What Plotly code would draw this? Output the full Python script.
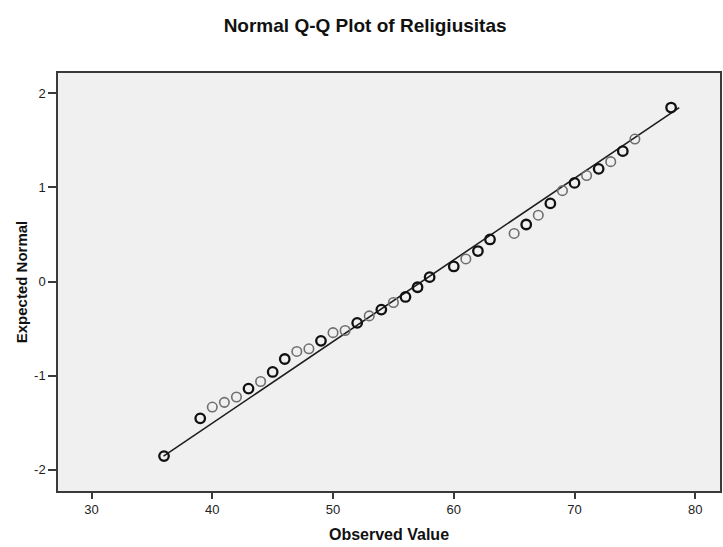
import plotly.graph_objects as go

observed = [36, 39, 40, 41, 42, 43, 44, 45, 46, 47, 48, 49, 50, 51, 52, 53, 54, 55,
            56, 57, 58, 60, 61, 62, 63, 65, 66, 67, 68, 69, 70, 71, 72, 73, 74, 75, 78]
expected = [-1.855, -1.454, -1.334, -1.284, -1.227, -1.138, -1.062, -0.961, -0.823,
            -0.743, -0.715, -0.630, -0.543, -0.520, -0.440, -0.365, -0.298, -0.223,
            -0.164, -0.061, 0.046, 0.160, 0.240, 0.324, 0.447, 0.511, 0.606, 0.705,
            0.830, 0.966, 1.048, 1.126, 1.198, 1.274, 1.385, 1.514, 1.849]
# darker markers = overlapping (repeated) cases
dark = [1, 1, 0, 0, 0, 1, 0, 1, 1, 0, 0, 1, 0, 0, 1, 0, 1, 0,
        1, 1, 1, 1, 0, 1, 1, 0, 1, 0, 1, 0, 1, 0, 1, 0, 1, 0, 1]

# Reference normal line parameters
line_mean = 57.35
line_sd = 11.53

x_ticks = [30, 40, 50, 60, 70, 80]
x_tick_labels = ["30", "40", "50", "60", "70", "80"]
y_ticks = [-2, -1, 0, 1, 2]
y_tick_labels = ["-2", "-1", "0", "1", "2"]

FONT = "Liberation Sans, Arial, sans-serif"

qmin, qmax = min(expected), max(expected)
line_x = [line_mean + qmin * line_sd, line_mean + qmax * line_sd]
line_y = [(v - line_mean) / line_sd for v in line_x]

dx = [v for v, d in zip(observed, dark) if d]
dy = [q for q, d in zip(expected, dark) if d]
gx = [v for v, d in zip(observed, dark) if not d]
gy = [q for q, d in zip(expected, dark) if not d]

fig = go.Figure()
fig.add_trace(go.Scatter(x=line_x, y=line_y, mode="lines",
                         line=dict(color="#1e1e1e", width=1.6), hoverinfo="skip",
                         showlegend=False))
fig.add_trace(go.Scatter(x=gx, y=gy, mode="markers",
                         marker=dict(symbol="circle-open", size=9.5, color="#6e6e6e",
                                     line=dict(width=1.6)),
                         showlegend=False))
fig.add_trace(go.Scatter(x=dx, y=dy, mode="markers",
                         marker=dict(symbol="circle-open", size=9.5, color="#111111",
                                     line=dict(width=2.3)),
                         showlegend=False))

axis_common = dict(showline=True, linecolor="#3a3a3a", linewidth=1.5, mirror=True,
                   showgrid=False, zeroline=False, ticks="outside",
                   tickcolor="#3a3a3a", tickwidth=1.5,
                   tickfont=dict(family=FONT, size=13, color="#222222"))

fig.update_layout(
    width=723, height=547,
    paper_bgcolor="white", plot_bgcolor="#f0f0f0",
    margin=dict(l=58, r=1, t=73, b=56),
    title=dict(text="<b>Normal Q-Q Plot of Religiusitas</b>", x=0.505, xanchor="center",
               y=1 - 25 / 547, yanchor="middle",
               font=dict(family=FONT, size=19, color="#111111")),
    xaxis=dict(axis_common, range=[27.22, 82.05], tickvals=x_ticks,
               ticktext=x_tick_labels, ticklen=6,
               title=dict(text="<b>Observed Value</b>", standoff=12,
                          font=dict(family=FONT, size=16, color="#111111"))),
    yaxis=dict(axis_common, range=[-2.226, 2.216], tickvals=y_ticks,
               ticktext=y_tick_labels, ticklen=8,
               title=dict(text="<b>Expected Normal</b>", standoff=3,
                          font=dict(family=FONT, size=15, color="#111111"))),
)

fig.write_html("out.html", config={"displayModeBar": False},
               post_script="document.body.style.margin='0px';")
